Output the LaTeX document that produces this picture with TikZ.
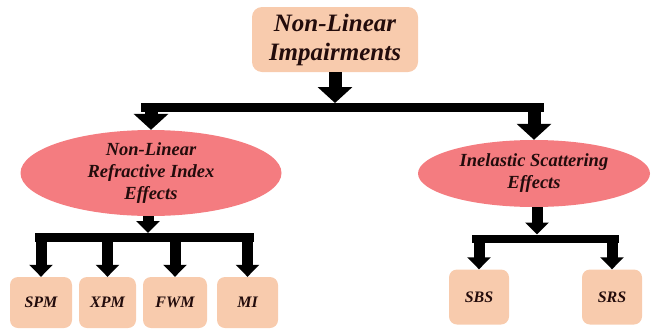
\documentclass[tikz,border=0pt]{standalone}
\usepackage{fontspec}
\setmainfont{Liberation Serif}
\usetikzlibrary{arrows.meta}
\usetikzlibrary{shapes.geometric}
\definecolor{peach}{RGB}{248,203,173}
\definecolor{salmon}{RGB}{244,124,128}
\definecolor{ink}{RGB}{35,12,12}

\tikzset{
	box/.style={fill=peach, rounded corners=8pt, text=ink, inner sep=0pt, align=center, font=\bfseries\itshape\fontsize{16}{19}\selectfont},
	oval/.style={ellipse, fill=salmon, text=ink, inner sep=0pt, align=center, font=\bfseries\itshape\fontsize{18.5}{22}\selectfont},
	bigarrow/.style={line width=13pt, -{Triangle[width=34pt,length=16pt]}},
	smallarrow/.style={line width=11pt, -{Triangle[width=23pt,length=12pt]}},
	bar/.style={line width=9pt},
}

\begin{document}
\begin{tikzpicture}[x=1pt, y=-1pt]
		\useasboundingbox (0,0) rectangle (653,330);
		\node[box, rounded corners=10pt, minimum width=166pt, minimum height=65pt, font=\bfseries\itshape\fontsize{25}{29}\selectfont] (nli) at (335,39.5) {Non-Linear\\Impairments};
		\node[oval, minimum width=261pt, minimum height=70pt] (nlr) at (151,173) {Non-Linear\\Refractive Index\\Effects};
		\node[oval, minimum width=232pt, minimum height=67pt] (ise) at (534,173.5) {Inelastic Scattering\\Effects};
		\node[box, minimum width=62pt, minimum height=51pt] (spm) at (41,302.5) {SPM};
		\node[box, minimum width=57pt, minimum height=51pt] (xpm) at (107.5,302.5) {XPM};
		\node[box, minimum width=64pt, minimum height=51pt] (fwm) at (175,302.5) {FWM};
		\node[box, minimum width=61pt, minimum height=51pt] (mi) at (247.5,302.5) {MI};
		\node[box, minimum width=60pt, minimum height=55pt] (sbs) at (479,297) {SBS};
		\node[box, minimum width=60pt, minimum height=55pt] (srs) at (612,297) {SRS};
		\coordinate (j1) at (335,107.5);
		\coordinate (j2) at (148,237.5);
		\coordinate (j3) at (537,239);
		\draw[bigarrow] (nli.south) -- ([yshift=4.5pt]j1);
		\draw[bar] ([xshift=-10pt]nlr.north |- j1) -- ([xshift=10pt]ise.north |- j1);
		\draw[bigarrow] (nlr.north |- j1) -- (nlr.north);
		\draw[bigarrow] (ise.north |- j1) -- (ise.north);
		\draw[smallarrow] (j2 |- nlr.south) -- ([yshift=4.5pt]j2);
		\draw[bar, line width=8.5pt] ([xshift=-6pt]spm.north |- j2) -- ([xshift=6pt]mi.north |- j2);
		\foreach \b in {spm,xpm,fwm,mi}
			\draw[smallarrow] (\b.north |- j2) -- (\b.north);
		\draw[smallarrow] (j3 |- ise.south) -- ([yshift=4.5pt]j3);
		\draw[bar, line width=8.5pt] ([xshift=-7pt]sbs.north |- j3) -- ([xshift=7pt]srs.north |- j3);
		\foreach \b in {sbs,srs}
			\draw[smallarrow] (\b.north |- j3) -- (\b.north);
	\end{tikzpicture}
\end{document}
